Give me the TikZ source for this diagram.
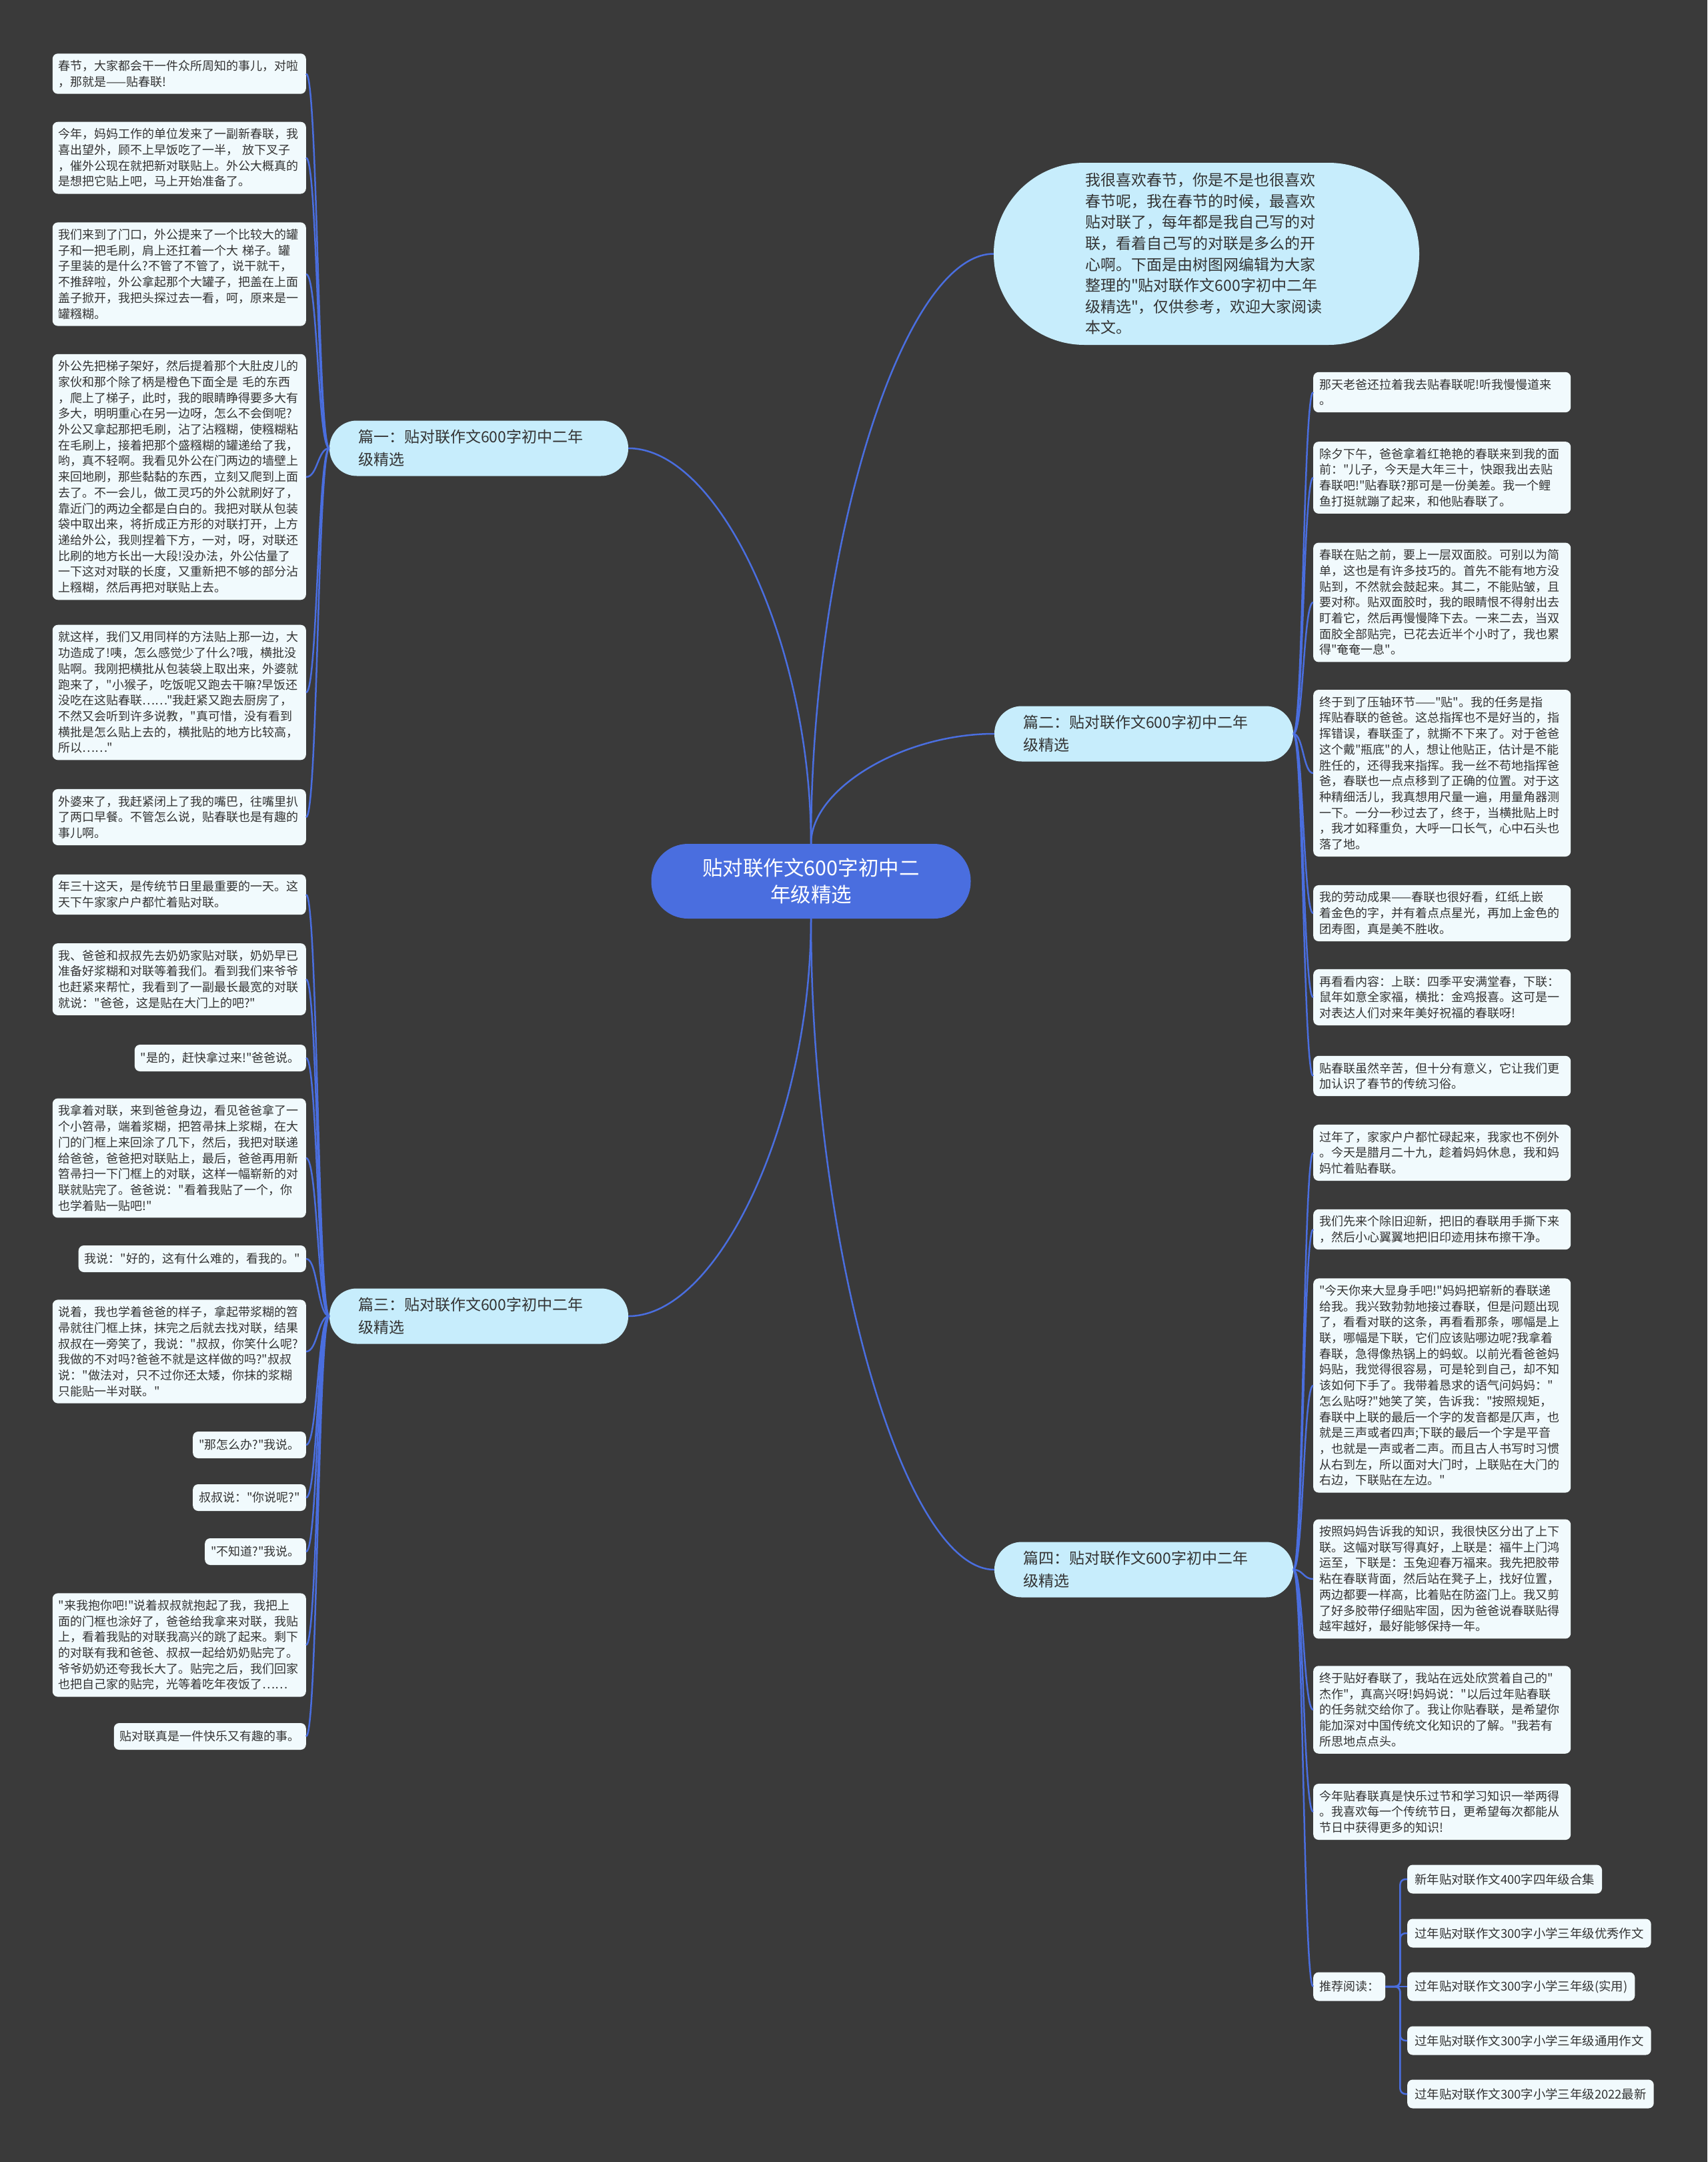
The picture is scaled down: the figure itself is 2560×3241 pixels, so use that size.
\documentclass[tikz,border=0pt]{standalone}
\usepackage{fontspec}
\setmainfont{Noto Sans CJK SC}[Ligatures=TeXOff]
\usetikzlibrary{calc}
\definecolor{bgc}{HTML}{3A3A3A}
\definecolor{leafc}{HTML}{F1FAFD}
\definecolor{branchc}{HTML}{C7EDFC}
\definecolor{rootc}{HTML}{4A6EDF}
\definecolor{linec}{HTML}{4A6EDF}
\definecolor{txtc}{HTML}{333333}
\newcommand\leaffont{\fontsize{18pt}{23.7pt}\selectfont}
\newcommand\rootlink[2]{\draw[conn] let \p1=(#1), \p2=(#2) in (\p1) .. controls (\x1,{(\y1+\y2)/2}) and ({(\x1+\x2)/2},\y2) .. (\p2);}
\newcommand\leaflink[2]{\draw[conn] let \p1=(#1), \p2=(#2) in (\p1) .. controls ({(\x1+\x2)/2},\y1) and ({(\x1+\x2)/2},\y2) .. (\p2);}
\tikzset{
  conn/.style={draw=linec, line width=2.5pt},
  leaf/.style={fill=leafc, rounded corners=8pt, inner xsep=9pt, inner ysep=3pt, text=txtc, font=\leaffont, align=left, minimum height=40pt},
  recbox/.style={leaf, anchor=west, minimum height=43pt, inner xsep=11pt, font=\fontsize{18.4pt}{23.7pt}\selectfont},
  wideL/.style={leaf, text width=362pt, anchor=east},
  wideR/.style={leaf, text width=368pt, anchor=west},
  branch/.style={fill=branchc, rounded corners=41pt, minimum width=448pt, minimum height=83pt, inner sep=0pt, text width=362pt, align=left, font=\fontsize{23pt}{34pt}\selectfont, text=txtc},
}
\begin{document}
\begin{tikzpicture}[x=1pt,y=-1pt]
\useasboundingbox (0,0) rectangle (2560,3241);
\fill[bgc] (0,0) rectangle (2560,3241);

% root and branches
\node[fill=rootc, rounded corners=55pt, minimum width=479pt, minimum height=112pt, inner sep=0pt, align=center, text=white, font=\fontsize{30.5pt}{40pt}\selectfont] (root) at (1216,1321) {贴对联作文600字初中二\\年级精选};
\node[fill=branchc, rounded corners=136pt, minimum width=638pt, minimum height=273pt, inner sep=0pt, text width=364pt, align=left, font=\fontsize{23pt}{31.6pt}\selectfont, text=txtc] (intro) at (1809,380.5) {我很喜欢春节，你是不是也很喜欢\\春节呢，我在春节的时候，最喜欢\\贴对联了，每年都是我自己写的对\\联，看着自己写的对联是多么的开\\心啊。下面是由树图网编辑为大家\\整理的"贴对联作文600字初中二年\\级精选"，仅供参考，欢迎大家阅读\\本文。};
\node[branch] (b1) at (718,672) {篇一：贴对联作文600字初中二年\\级精选};
\node[branch] (b2) at (1715,1100) {篇二：贴对联作文600字初中二年\\级精选};
\node[branch] (b3) at (718,1973) {篇三：贴对联作文600字初中二年\\级精选};
\node[branch] (b4) at (1715,2353) {篇四：贴对联作文600字初中二年\\级精选};

% 篇一 leaves
\node[wideL, minimum height=60.4pt] (a1) at (459,110.5) {春节，大家都会干一件众所周知的事儿，对啦\\，那就是——贴春联!};
\node[wideL, minimum height=107.8pt] (a2) at (459,236.6) {今年，妈妈工作的单位发来了一副新春联，我\\喜出望外，顾不上早饭吃了一半，~放下叉子\\，催外公现在就把新对联贴上。外公大概真的\\是想把它贴上吧，马上开始准备了。};
\node[wideL, minimum height=155.2pt] (a3) at (459,411) {我们来到了门口，外公提来了一个比较大的罐\\子和一把毛刷，肩上还扛着一个大~梯子。罐\\子里装的是什么?不管了不管了，说干就干，\\不推辞啦，外公拿起那个大罐子，把盖在上面\\盖子掀开，我把头探过去一看，呵，原来是一\\罐糨糊。};
\node[wideL, minimum height=368.5pt] (a4) at (459,715) {外公先把梯子架好，然后提着那个大肚皮儿的\\家伙和那个除了柄是橙色下面全是~毛的东西\\，爬上了梯子，此时，我的眼睛睁得要多大有\\多大，明明重心在另一边呀，怎么不会倒呢?\\外公又拿起那把毛刷，沾了沾糨糊，使糨糊粘\\在毛刷上，接着把那个盛糨糊的罐递给了我，\\哟，真不轻啊。我看见外公在门两边的墙壁上\\来回地刷，那些黏黏的东西，立刻又爬到上面\\去了。不一会儿，做工灵巧的外公就刷好了，\\靠近门的两边全都是白白的。我把对联从包装\\袋中取出来，将折成正方形的对联打开，上方\\递给外公，我则捏着下方，一对，呀，对联还\\比刷的地方长出一大段!没办法，外公估量了\\一下这对对联的长度，又重新把不够的部分沾\\上糨糊，然后再把对联贴上去。};
\node[wideL, minimum height=202.6pt] (a5) at (459,1038) {就这样，我们又用同样的方法贴上那一边，大\\功造成了!咦，怎么感觉少了什么?哦，横批没\\贴啊。我刚把横批从包装袋上取出来，外婆就\\跑来了，"小猴子，吃饭呢又跑去干嘛?早饭还\\没吃在这贴春联……"我赶紧又跑去厨房了，\\不然又会听到许多说教，"真可惜，没有看到\\横批是怎么贴上去的，横批贴的地方比较高，\\所以……"};
\node[wideL, minimum height=84.1pt] (a6) at (459,1225) {外婆来了，我赶紧闭上了我的嘴巴，往嘴里扒\\了两口早餐。不管怎么说，贴春联也是有趣的\\事儿啊。};

% 篇三 leaves
\node[wideL, minimum height=60.4pt] (c1) at (459,1341) {年三十这天，是传统节日里最重要的一天。这\\天下午家家户户都忙着贴对联。};
\node[wideL, minimum height=107.8pt] (c2) at (459,1468) {我、爸爸和叔叔先去奶奶家贴对联，奶奶早已\\准备好浆糊和对联等着我们。看到我们来爷爷\\也赶紧来帮忙，我看到了一副最长最宽的对联\\就说："爸爸，这是贴在大门上的吧?"};
\node[leaf, anchor=east] (c3) at (459,1586) {"是的，赶快拿过来!"爸爸说。};
\node[wideL, minimum height=178.9pt] (c4) at (459,1736) {我拿着对联，来到爸爸身边，看见爸爸拿了一\\个小笤帚，端着浆糊，把笤帚抹上浆糊，在大\\门的门框上来回涂了几下，然后，我把对联递\\给爸爸，爸爸把对联贴上，最后，爸爸再用新\\笤帚扫一下门框上的对联，这样一幅崭新的对\\联就贴完了。爸爸说："看着我贴了一个，你\\也学着贴一贴吧!"};
\node[leaf, anchor=east] (c5) at (459,1887) {我说："好的，这有什么难的，看我的。"};
\node[wideL, minimum height=155.2pt] (c6) at (459,2026) {说着，我也学着爸爸的样子，拿起带浆糊的笤\\帚就往门框上抹，抹完之后就去找对联，结果\\叔叔在一旁笑了，我说："叔叔，你笑什么呢?\\我做的不对吗?爸爸不就是这样做的吗?"叔叔\\说："做法对，只不过你还太矮，你抹的浆糊\\只能贴一半对联。"};
\node[leaf, anchor=east] (c7) at (459,2166) {"那怎么办?"我说。};
\node[leaf, anchor=east] (c8) at (459,2245) {叔叔说："你说呢?"};
\node[leaf, anchor=east] (c9) at (459,2326) {"不知道?"我说。};
\node[wideL, minimum height=155.2pt] (c10) at (459,2466) {"来我抱你吧!"说着叔叔就抱起了我，我把上\\面的门框也涂好了，爸爸给我拿来对联，我贴\\上，看着我贴的对联我高兴的跳了起来。剩下\\的对联有我和爸爸、叔叔一起给奶奶贴完了。\\爷爷奶奶还夸我长大了。贴完之后，我们回家\\也把自己家的贴完，光等着吃年夜饭了……};
\node[leaf, anchor=east] (c11) at (459,2603) {贴对联真是一件快乐又有趣的事。};

% 篇二 leaves
\node[wideR, minimum height=60.4pt] (d1) at (1969,588) {那天老爸还拉着我去贴春联呢!听我慢慢道来\\。};
\node[wideR, minimum height=107.8pt] (d2) at (1969,716) {除夕下午，爸爸拿着红艳艳的春联来到我的面\\前："儿子，今天是大年三十，快跟我出去贴\\春联吧!"贴春联?那可是一份美差。我一个鲤\\鱼打挺就蹦了起来，和他贴春联了。};
\node[wideR, minimum height=178.9pt] (d3) at (1969,903) {春联在贴之前，要上一层双面胶。可别以为简\\单，这也是有许多技巧的。首先不能有地方没\\贴到，不然就会鼓起来。其二，不能贴皱，且\\要对称。贴双面胶时，我的眼睛恨不得射出去\\盯着它，然后再慢慢降下去。一来二去，当双\\面胶全部贴完，已花去近半个小时了，我也累\\得"奄奄一息"。};
\node[wideR, minimum height=250pt] (d4) at (1969,1159) {终于到了压轴环节——"贴"。我的任务是指\\挥贴春联的爸爸。这总指挥也不是好当的，指\\挥错误，春联歪了，就撕不下来了。对于爸爸\\这个戴"瓶底"的人，想让他贴正，估计是不能\\胜任的，还得我来指挥。我一丝不苟地指挥爸\\爸，春联也一点点移到了正确的位置。对于这\\种精细活儿，我真想用尺量一遍，用量角器测\\一下。一分一秒过去了，终于，当横批贴上时\\，我才如释重负，大呼一口长气，心中石头也\\落了地。};
\node[wideR, minimum height=84.1pt] (d5) at (1969,1369) {我的劳动成果——春联也很好看，红纸上嵌\\着金色的字，并有着点点星光，再加上金色的\\团寿图，真是美不胜收。};
\node[wideR, minimum height=84.1pt] (d6) at (1969,1495) {再看看内容：上联：四季平安满堂春，下联：\\鼠年如意全家福，横批：金鸡报喜。这可是一\\对表达人们对来年美好祝福的春联呀!};
\node[wideR, minimum height=60.4pt] (d7) at (1969,1613) {贴春联虽然辛苦，但十分有意义，它让我们更\\加认识了春节的传统习俗。};

% 篇四 leaves
\node[wideR, minimum height=84.1pt] (e1) at (1969,1728) {过年了，家家户户都忙碌起来，我家也不例外\\。今天是腊月二十九，趁着妈妈休息，我和妈\\妈忙着贴春联。};
\node[wideR, minimum height=60.4pt] (e2) at (1969,1843) {我们先来个除旧迎新，把旧的春联用手撕下来\\，然后小心翼翼地把旧印迹用抹布擦干净。};
\node[wideR, minimum height=321.1pt] (e3) at (1969,2077) {"今天你来大显身手吧!"妈妈把崭新的春联递\\给我。我兴致勃勃地接过春联，但是问题出现\\了，看看对联的这条，再看看那条，哪幅是上\\联，哪幅是下联，它们应该贴哪边呢?我拿着\\春联，急得像热锅上的蚂蚁。以前光看爸爸妈\\妈贴，我觉得很容易，可是轮到自己，却不知\\该如何下手了。我带着恳求的语气问妈妈："\\怎么贴呀?"她笑了笑，告诉我："按照规矩，\\春联中上联的最后一个字的发音都是仄声，也\\就是三声或者四声;下联的最后一个字是平音\\，也就是一声或者二声。而且古人书写时习惯\\从右到左，所以面对大门时，上联贴在大门的\\右边，下联贴在左边。"};
\node[wideR, minimum height=178.9pt] (e4) at (1969,2367) {按照妈妈告诉我的知识，我很快区分出了上下\\联。这幅对联写得真好，上联是：福牛上门鸿\\运至，下联是：玉兔迎春万福来。我先把胶带\\粘在春联背面，然后站在凳子上，找好位置，\\两边都要一样高，比着贴在防盗门上。我又剪\\了好多胶带仔细贴牢固，因为爸爸说春联贴得\\越牢越好，最好能够保持一年。};
\node[wideR, minimum height=131.5pt] (e5) at (1969,2563) {终于贴好春联了，我站在远处欣赏着自己的"\\杰作"，真高兴呀!妈妈说："以后过年贴春联\\的任务就交给你了。我让你贴春联，是希望你\\能加深对中国传统文化知识的了解。"我若有\\所思地点点头。};
\node[wideR, minimum height=84.1pt] (e6) at (1969,2716) {今年贴春联真是快乐过节和学习知识一举两得\\。我喜欢每一个传统节日，更希望每次都能从\\节日中获得更多的知识!};
\node[leaf, anchor=west, minimum height=43pt] (tj) at (1969,2978) {推荐阅读：};

% recommended
\node[recbox] (r1) at (2110,2817) {新年贴对联作文400字四年级合集};
\node[recbox] (r2) at (2110,2898) {过年贴对联作文300字小学三年级优秀作文};
\node[recbox] (r3) at (2110,2978) {过年贴对联作文300字小学三年级(实用)};
\node[recbox] (r4) at (2110,3059) {过年贴对联作文300字小学三年级通用作文};
\node[recbox] (r5) at (2110,3139) {过年贴对联作文300字小学三年级2022最新};

% connectors root
\rootlink{root.north}{intro.west}
\rootlink{root.north}{b1.east}
\rootlink{root.north}{b2.west}
\rootlink{root.south}{b3.east}
\rootlink{root.south}{b4.west}

% connectors leaves
\foreach \kk in {a1,a2,a3,a4,a5,a6}{\leaflink{b1.west}{\kk.east}}
\foreach \kk in {c1,c2,c3,c4,c5,c6,c7,c8,c9,c10,c11}{\leaflink{b3.west}{\kk.east}}
\foreach \kk in {d1,d2,d3,d4,d5,d6,d7}{\leaflink{b2.east}{\kk.west}}
\foreach \kk in {e1,e2,e3,e4,e5,e6,tj}{\leaflink{b4.east}{\kk.west}}

\coordinate (tjv) at ($(tj.east)+(22,0)$);
\foreach \kk in {r1,r2,r4,r5}{\draw[conn, rounded corners=8pt] (tj.east) -- (tjv) |- (\kk.west);}
\draw[conn] (tj.east) -- (r3.west);
\end{tikzpicture}
\end{document}
